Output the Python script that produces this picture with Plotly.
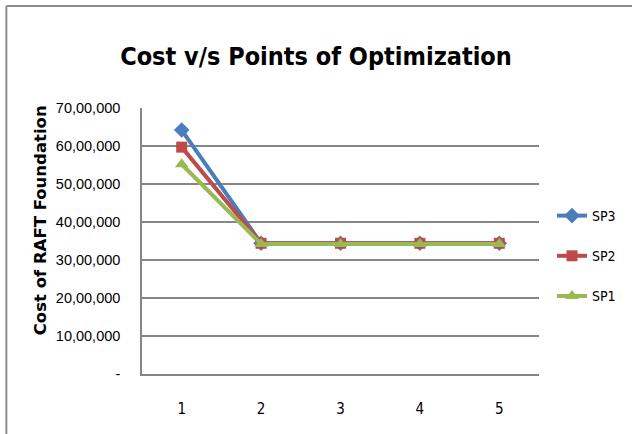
import plotly.graph_objects as go

points = ["1", "2", "3", "4", "5"]
sp3 = [6420000, 3440000, 3440000, 3440000, 3440000]
sp2 = [5970000, 3440000, 3440000, 3440000, 3440000]
sp1 = [5520000, 3420000, 3420000, 3420000, 3420000]
y_tickvals = [0, 1000000, 2000000, 3000000, 4000000, 5000000, 6000000, 7000000]
y_ticktext = ["-", "10,00,000", "20,00,000", "30,00,000", "40,00,000",
              "50,00,000", "60,00,000", "70,00,000"]

series = [
    ("SP3", sp3, "#4a7ebb", "diamond", 12),
    ("SP2", sp2, "#be4b48", "square", 11),
    ("SP1", sp1, "#98b954", "triangle-up", 12),
]

fig = go.Figure()
for name, vals, color, sym, size in series:
    fig.add_trace(go.Scatter(
        x=points, y=vals, name=name, mode="lines+markers",
        line=dict(color=color, width=4),
        marker=dict(symbol=sym, size=size, color=color),
        legendgroup=name,
    ))

W, H = 632, 434
L, R, T, B = 142, 92, 108, 60
pw, ph = W - L - R, H - T - B

def px(x):
    return (x - L) / pw

def py(y):
    return (H - B - y) / ph

NARROW = "DejaVu Sans Condensed, Liberation Sans Narrow, Liberation Sans, sans-serif"
SANS = "Liberation Sans, Arial, sans-serif"

fig.update_layout(
    width=W, height=H,
    margin=dict(l=L, r=R, t=T, b=B),
    paper_bgcolor="white", plot_bgcolor="white",
    font=dict(family=NARROW, color="#000000"),
    title=dict(text="Cost v/s Points of Optimization", x=0.5, xanchor="center",
               y=1 - 56 / H, yanchor="middle",
               font=dict(size=25, family=NARROW, weight="bold")),
    showlegend=True,
    legend=dict(x=px(552), xanchor="left", y=py(200), yanchor="top",
                traceorder="grouped", tracegroupgap=19,
                font=dict(size=14, family=NARROW),
                itemwidth=30, bgcolor="rgba(0,0,0,0)"),
    xaxis=dict(type="category", range=[-0.5, 4.5], showgrid=False,
               showline=True, linecolor="#868686", linewidth=1.5,
               ticks="", ticklabelstandoff=20,
               tickfont=dict(size=15, family=NARROW)),
    yaxis=dict(range=[0, 7000000], tickvals=y_tickvals, ticktext=y_ticktext,
               showgrid=True, gridcolor="#868686", gridwidth=1.5,
               showline=True, linecolor="#868686", linewidth=1.5,
               zeroline=False, ticks="", ticklabelstandoff=17,
               tickfont=dict(size=14.5, family=SANS)),
    annotations=[
        dict(text="<b>Cost of RAFT Foundation</b>", textangle=-90,
             xref="paper", yref="paper", x=px(40), y=py(220),
             xanchor="center", yanchor="middle", showarrow=False,
             font=dict(size=16.5, family="DejaVu Sans, sans-serif", color="#000000")),
    ],
    shapes=[
        dict(type="line", xref="paper", yref="paper", x0=px(6), x1=px(640),
             y0=py(6), y1=py(6), line=dict(color="#8c8c8c", width=2)),
        dict(type="line", xref="paper", yref="paper", x0=px(6), x1=px(6),
             y0=py(6), y1=py(440), line=dict(color="#8c8c8c", width=2)),
    ],
)

fig.write_html("out.html", config={"displayModeBar": False},
               post_script="document.body.style.margin='0';document.body.style.padding='0';")
